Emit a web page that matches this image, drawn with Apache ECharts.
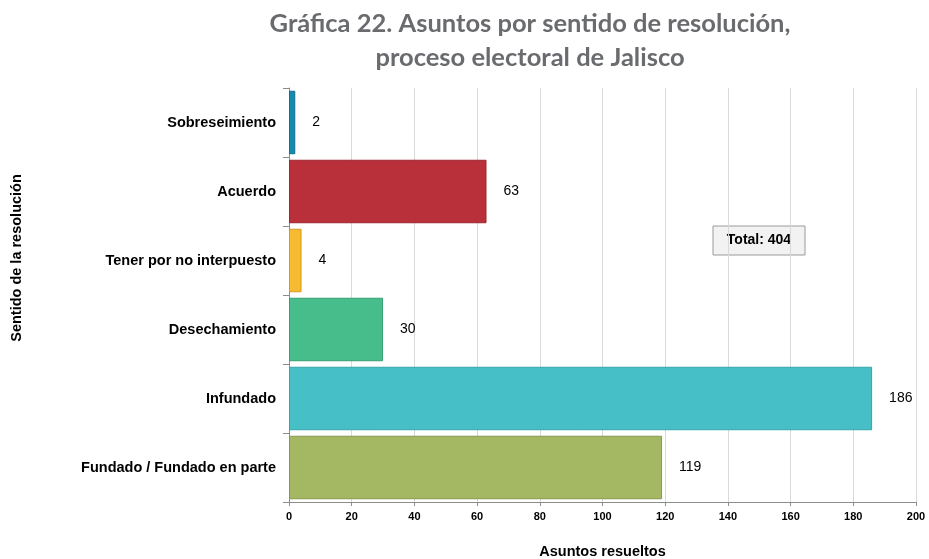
<!DOCTYPE html>
<html>
<head>
<meta charset="utf-8">
<script src="https://cdn.jsdelivr.net/npm/echarts@6/dist/echarts.min.js"></script>
<style>
  html, body { margin: 0; padding: 0; background: #fff; }
  #chart { width: 929px; height: 559px; }
</style>
</head>
<body>
<div id="chart"></div>
<script>
// categories top to bottom
var categories = ['Sobreseimiento', 'Acuerdo', 'Tener por no interpuesto', 'Desechamiento', 'Infundado', 'Fundado / Fundado en parte'];
var values = [2, 63, 4, 30, 186, 119];
var barColors = ['#1589ae', '#b9303b', '#f6bb31', '#46bd8b', '#46c0c6', '#a4b763'];
var borderColors = ['#106f8e', '#9c2530', '#d49a1e', '#36a072', '#35a5ab', '#879a4c'];
var total = 404;

var chart = echarts.init(document.getElementById('chart'));

var option = {
    animation: false,
    grid: { left: 289, right: 13, top: 88, bottom: 57, outerBoundsMode: 'none', containLabel: false },
    graphic: [
        {
            type: 'text',
            x: 530, y: 41,
            style: {
                text: 'Gráfica 22. Asuntos por sentido de resolución,\nproceso electoral de Jalisco',
                font: 'bold 25.5px Lato',
                fill: '#6a6b6e',
                align: 'center',
                verticalAlign: 'middle',
                lineHeight: 34
            }
        },
        {
            type: 'text',
            x: 17, y: 258,
            rotation: Math.PI / 2,
            style: {
                text: 'Sentido de la resolución',
                font: 'bold 14.5px "Liberation Sans", Arial',
                fill: '#000',
                align: 'center',
                verticalAlign: 'middle'
            }
        },
        {
            type: 'group',
            x: 713, y: 226,
            children: [
                {
                    type: 'rect',
                    shape: { x: 0, y: 0, width: 92, height: 29 },
                    style: { fill: '#f2f2f2', stroke: '#9a9a9a', lineWidth: 1 }
                },
                {
                    type: 'text',
                    x: 46, y: 14.5,
                    style: {
                        text: 'Total: ' + total,
                        font: 'bold 14px "Liberation Sans", Arial',
                        fill: '#000',
                        align: 'center',
                        verticalAlign: 'middle'
                    }
                }
            ]
        }
    ],
    xAxis: {
        type: 'value',
        min: 0, max: 200, interval: 20,
        name: 'Asuntos resueltos',
        nameLocation: 'middle',
        nameGap: 42,
        nameTextStyle: { fontFamily: 'Liberation Sans', fontWeight: 'bold', fontSize: 14.5, color: '#000' },
        axisLine: { show: true, lineStyle: { color: '#8c8c8c' } },
        axisTick: { show: true, length: 4, lineStyle: { color: '#8c8c8c' } },
        axisLabel: { fontFamily: 'Liberation Sans', fontWeight: 'bold', fontSize: 11, color: '#000', margin: 9 },
        splitLine: { show: true, lineStyle: { color: '#d9d9d9' } }
    },
    yAxis: {
        type: 'category',
        inverse: true,
        data: categories,
        axisLine: { show: true, lineStyle: { color: '#8c8c8c' } },
        axisTick: { show: true, length: 6, lineStyle: { color: '#8c8c8c' } },
        axisLabel: { fontFamily: 'Liberation Sans', fontWeight: 'bold', fontSize: 14.5, color: '#000', margin: 13 },
        splitLine: { show: false }
    },
    series: [{
        type: 'bar',
        barCategoryGap: '8%',
        data: values.map(function (v, i) {
            return {
                value: v,
                itemStyle: { color: barColors[i], borderColor: borderColors[i], borderWidth: 1 }
            };
        }),
        label: {
            show: true,
            position: 'right',
            distance: 17,
            fontFamily: 'Liberation Sans',
            fontSize: 14,
            color: '#000'
        }
    }]
};

chart.setOption(option);
</script>
</body>
</html>
